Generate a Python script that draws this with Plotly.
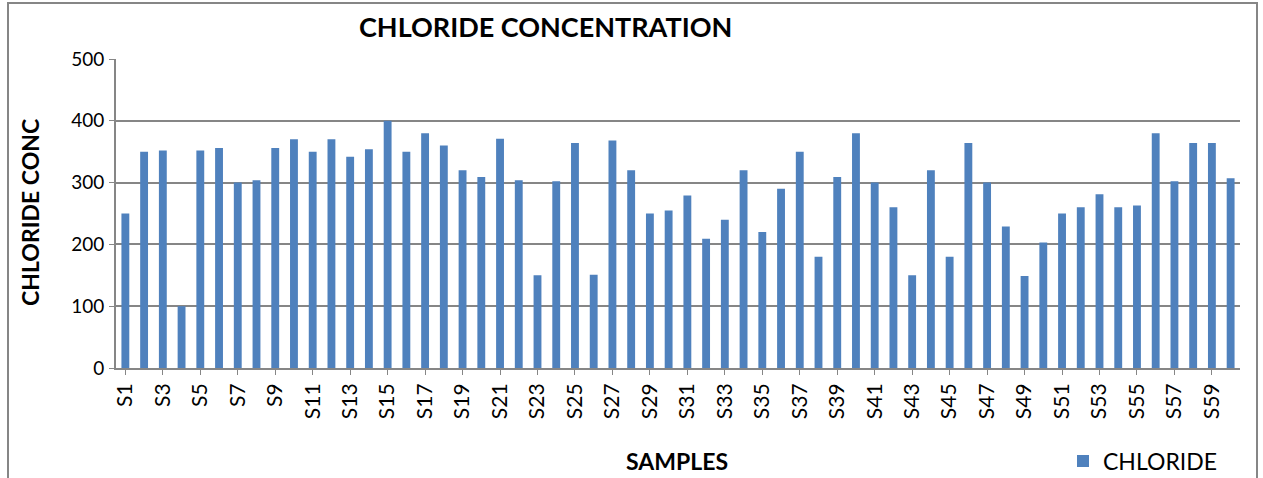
import plotly.graph_objects as go

# Chloride concentration per sample
samples = [f"S{i}" for i in range(1, 61)]
chloride = [
    250, 350, 352, 100, 352, 356, 300, 304, 356, 370,
    350, 370, 342, 354, 400, 350, 380, 360, 320, 309,
    371, 304, 150, 302, 364, 151, 368, 320, 250, 255,
    279, 209, 240, 320, 220, 290, 350, 180, 309, 380,
    300, 260, 150, 320, 180, 364, 300, 229, 149, 203,
    250, 260, 281, 260, 263, 380, 302, 364, 364, 307,
]
tick_labels = samples[::2]
y_ticks = [0, 100, 200, 300, 400, 500]

W, H = 1263, 478
L, R, T, B = 116, 23, 59, 110
pw, ph = W - L - R, H - T - B


def px(x):
    return (x - L) / pw


def py(y):
    return (H - B - y) / ph


FONT = "Lato, 'Open Sans', sans-serif"

fig = go.Figure()
fig.add_trace(go.Bar(
    x=samples,
    y=chloride,
    name='CHLORIDE',
    marker=dict(color='#4F81BD', line=dict(width=0)),
))

fig.update_layout(
    width=W, height=H,
    margin=dict(l=L, r=R, t=T, b=B, autoexpand=False),
    paper_bgcolor='white',
    plot_bgcolor='white',
    bargap=0.58,
    font=dict(family=FONT, color='black'),
    showlegend=True,
    legend=dict(
        x=px(1063), y=py(461), xanchor='left', yanchor='middle',
        font=dict(size=23, family=FONT),
        bgcolor='rgba(0,0,0,0)',
    ),
    xaxis=dict(
        type='category',
        tickmode='array', tickvals=tick_labels, ticktext=tick_labels,
        tickangle=-90,
        tickfont=dict(size=21),
        showline=True, linecolor='#868686', linewidth=2,
        ticks='outside', ticklen=5, tickcolor='#868686',
        showgrid=False,
    ),
    yaxis=dict(
        range=[0, 500],
        tickvals=y_ticks,
        tickfont=dict(size=19),
        showline=True, linecolor='#868686', linewidth=2,
        ticks='outside', ticklen=5, tickcolor='#868686',
        gridcolor='#868686', gridwidth=1.5,
        zeroline=False,
        ticklabelstandoff=1,
    ),
    annotations=[
        dict(text='<b>CHLORIDE CONCENTRATION</b>', x=px(545), y=py(27),
             xref='paper', yref='paper', showarrow=False,
             xanchor='center', yanchor='middle',
             font=dict(size=27, family=FONT)),
        dict(text='<b>CHLORIDE CONC</b>', x=px(30), y=py(213),
             xref='paper', yref='paper', showarrow=False, textangle=-90,
             xanchor='center', yanchor='middle',
             font=dict(size=23, family=FONT)),
        dict(text='<b>SAMPLES</b>', x=px(677), y=py(461),
             xref='paper', yref='paper', showarrow=False,
             xanchor='center', yanchor='middle',
             font=dict(size=23, family=FONT)),
    ],
    shapes=[
        dict(type='rect', xref='paper', yref='paper',
             x0=px(8), x1=px(1257), y0=py(H + 20), y1=py(3),
             line=dict(color='#868686', width=2), fillcolor='rgba(0,0,0,0)'),
    ],
)

# drop the default page margin so the figure sits at the window's corner
fig.write_html("out.html", config={'displayModeBar': False},
               post_script="document.body.style.margin='0';")
